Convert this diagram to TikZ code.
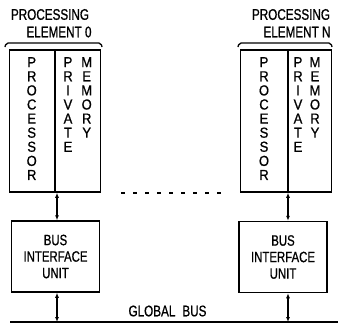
\documentclass[tikz,border=0pt]{standalone}
\usepackage{fontspec}
\setmainfont{Liberation Sans}[FakeStretch=0.76,FakeBold=0.8]
\newfontfamily\colfont{Liberation Sans}[FakeStretch=0.9,FakeBold=0.8]
\usetikzlibrary{arrows.meta}
\tikzset{
  pebox/.style={draw, line width=1.5pt, minimum width=91pt, minimum height=142pt, inner sep=0pt},
  biubox/.style={draw, line width=1.5pt, minimum width=88pt, minimum height=71pt, align=center,
    inner sep=0pt, font=\fontsize{15}{16.5}\selectfont},
  letters/.style={anchor=north, align=center, inner sep=0pt, font=\colfont\fontsize{14.5}{14.1}\selectfont},
  head/.style={inner sep=0pt, font=\fontsize{15.4}{17.5}\selectfont},
  link/.style={{Latex[length=5pt,width=4pt]}-{Latex[length=5pt,width=4pt]}, line width=1.2pt}
}
\begin{document}
\begin{tikzpicture}[x=1pt,y=-1pt]
    \useasboundingbox (0,0) rectangle (338,325);
    % processing element 0
    \node [head] (pe0a) at (50,14.5) {PROCESSING};
    \node [head] (pe0b) at (59,32) {ELEMENT 0};
    \draw [line width=1.3pt, rounded corners=2pt] (5,47) -- (6,43) -- (101,43) -- (102,47);
    \node [pebox] (pe0) at (55,121) {};
    \draw [line width=1.5pt] (pe0.north) -- (pe0.south);
    \node [letters] (proc0) at (31.7,57) {P\\R\\O\\C\\E\\S\\S\\O\\R};
    \node [letters] (priv0) at (68,57) {P\\R\\I\\V\\A\\T\\E};
    \node [letters] (mem0) at (86.7,57) {M\\E\\M\\O\\R\\Y};
    % processing element N
    \node [head] (pena) at (291,14.5) {PROCESSING};
    \node [head] (penb) at (297,32) {ELEMENT N};
    \draw [line width=1.3pt, rounded corners=2pt] (238,47) -- (239,43) -- (331,43) -- (332,47);
    \node [pebox] (pen) at (286,121) {};
    \draw [line width=1.5pt] ([xshift=2pt]pen.north) -- ([xshift=2pt]pen.south);
    \node [letters] (procn) at (264,57) {P\\R\\O\\C\\E\\S\\S\\O\\R};
    \node [letters] (privn) at (298,57) {P\\R\\I\\V\\A\\T\\E};
    \node [letters] (memn) at (315,57) {M\\E\\M\\O\\R\\Y};
    % the elements in between
    \draw [line width=2.4pt, dash pattern=on 3.5pt off 8.5pt] (121,193) -- (221,193);
    % bus interface units
    \node [biubox] (biu0) at (55.5,256.5) {BUS\\INTERFACE\\UNIT};
    \node [biubox] (biun) at (283,257) {BUS\\INTERFACE\\UNIT};
    \draw [link] ([xshift=2pt]pe0.south) -- ([xshift=2pt]pe0.south |- biu0.north);
    \draw [link] ([xshift=2pt]pen.south) -- ([xshift=2pt]pen.south |- biun.north);
    % global bus
    \coordinate (busL) at (10,322);
    \coordinate (busR) at (338,322);
    \draw [line width=1.5pt] (busL) -- (busR);
    \node [head] (buslabel) at (167.5,311) {GLOBAL\hspace{7pt}BUS};
    \draw [link] ([xshift=2pt]pe0.south |- biu0.south) -- ([xshift=2pt]pe0.south |- busL);
    \draw [link] ([xshift=2pt]pen.south |- biun.south) -- ([xshift=2pt]pen.south |- busL);
\end{tikzpicture}
\end{document}
